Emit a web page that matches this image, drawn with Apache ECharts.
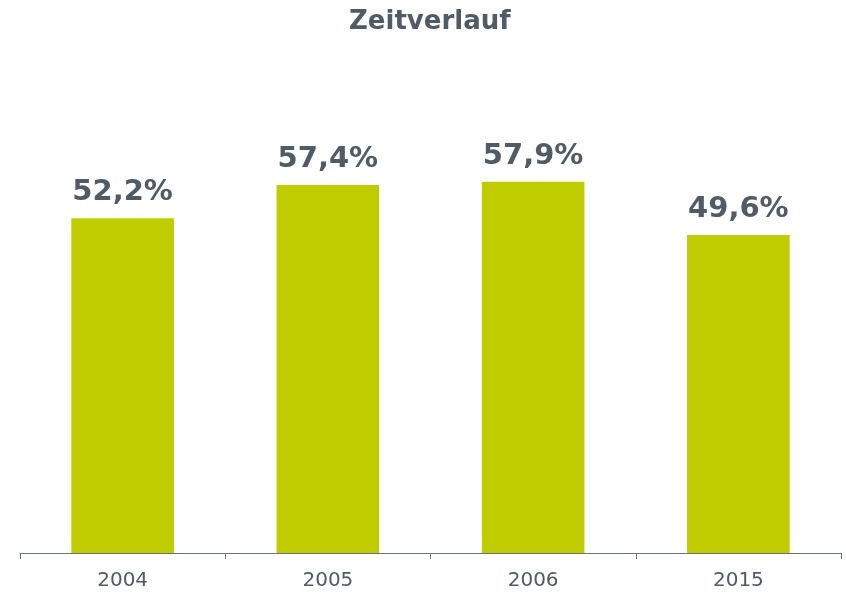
<!DOCTYPE html>
<html>
<head>
<meta charset="utf-8">
<script src="https://cdn.jsdelivr.net/npm/echarts@6/dist/echarts.min.js"></script>
<style>
html, body { margin: 0; padding: 0; background: #fff; }
#chart { width: 846px; height: 593px; }
</style>
</head>
<body>
<div id="chart"></div>
<script>
var years = ['2004', '2005', '2006', '2015'];
var values = [52.2, 57.4, 57.9, 49.6];

var textColor = '#4f5b66';
var myChart = echarts.init(document.getElementById('chart'));
var option = {
    title: {
        text: 'Zeitverlauf',
        left: 349,
        top: 9,
        padding: 0,
        textStyle: {
            color: textColor,
            fontFamily: 'DejaVu Sans',
            fontWeight: 'bold',
            fontSize: 26
        }
    },
    grid: {
        left: 20,
        right: 5,
        top: 40,
        bottom: 40,
        containLabel: false
    },
    xAxis: {
        type: 'category',
        data: years,
        axisLine: {lineStyle: {color: '#6b737b', width: 1}},
        axisTick: {show: true, length: 6, lineStyle: {color: '#6b737b'}},
        axisLabel: {
            color: textColor,
            fontFamily: 'DejaVu Sans',
            fontSize: 20,
            margin: 18
        }
    },
    yAxis: {
        type: 'value',
        min: 0,
        max: 80,
        show: false,
        splitLine: {show: false}
    },
    series: [{
        type: 'bar',
        data: values,
        barWidth: '50%',
        itemStyle: {color: '#bfcc00'},
        label: {
            show: true,
            position: 'top',
            distance: 11,
            color: textColor,
            fontFamily: 'DejaVu Sans',
            fontWeight: 'bold',
            fontSize: 29,
            formatter: function (p) {
                return p.value.toFixed(1).replace('.', ',') + '%';
            }
        }
    }]
};
myChart.setOption(option);
</script>
</body>
</html>
